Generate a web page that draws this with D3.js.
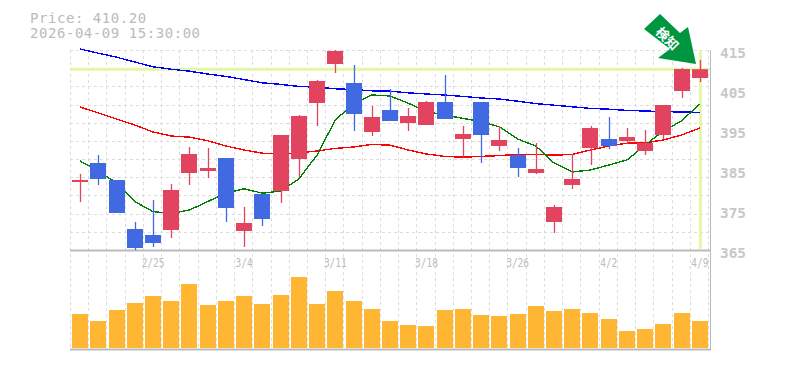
<!DOCTYPE html>
<html>
<head>
<meta charset="utf-8">
<script src="https://cdn.jsdelivr.net/npm/d3@7"></script>
<style>
  html, body { margin: 0; padding: 0; background: #fff; }
  text { font-family: "DejaVu Sans Mono", monospace; fill: #bbb; }
</style>
</head>
<body>
<div id="chart"></div>
<script>
const opens  = [382, 386.75, 382.5, 370.25, 368.75, 370, 384.25, 384.75, 388, 369.75, 379, 379.75, 387.75, 401.75, 411.5, 406.75, 394.5, 400, 396.75, 396.25, 402, 392.75, 402, 391, 388.75, 384.25, 372, 381.25, 390.5, 392.75, 392.25, 389.75, 393.75, 404.75, 408];
const closes = [382.5, 382.75, 374.25, 365.5, 366.75, 380, 389, 385.5, 375.5, 371.75, 372.75, 393.75, 398.5, 407.25, 414.75, 399, 398.25, 397.25, 398.5, 402, 397.75, 394, 393.75, 392.5, 385.5, 385.25, 375.75, 382.75, 395.5, 391, 393.25, 391.75, 401.25, 410.25, 410.2];
const highs  = [384, 388.75, 382.5, 372, 377.5, 381.5, 390.75, 390.5, 388, 375.75, 379, 393.75, 398.75, 407.5, 415, 411.25, 401, 405.25, 400.5, 402.25, 408.75, 396, 402, 396, 390.5, 391.75, 376.25, 389, 396, 398.25, 395.5, 395, 401.25, 410.5, 412.5];
const lows   = [377, 381.25, 374.25, 365, 365.75, 368, 381.25, 383, 372, 365.75, 371, 376.75, 383.25, 396, 409.25, 394.75, 393.5, 397.25, 394.75, 396.25, 397.75, 388.25, 386.75, 389.75, 383.25, 384, 369.25, 380.25, 386.25, 390.25, 391.5, 388.75, 392.75, 403, 407];
const maShort = [387.25, 384.75, 381.75, 377.1, 374.6, 374.1, 375, 377.1, 379.25, 380.3, 379.2, 379.75, 382.75, 388.75, 397.5, 401.5, 403.75, 403.5, 401.7, 399.6, 398.75, 397.9, 397.1, 395.8, 392.75, 391, 386.75, 384.5, 385, 386.25, 387.5, 391.25, 394.75, 397.3, 401.5];
const maMid   = [400.75, 399.25, 397.75, 396.25, 394.5, 393.5, 393.2, 392.3, 391, 390, 389.2, 389, 389.3, 389.75, 390.4, 390.75, 391.4, 391.2, 390, 389, 388.4, 388.2, 388.4, 388.6, 388.9, 388.9, 388.7, 388.9, 390, 391, 391.7, 391.8, 392.5, 393.75, 395.5];
const maLong  = [415.25, 414.2, 413.2, 412, 410.8, 410.2, 409.7, 409, 408.4, 407.6, 406.8, 406.4, 405.9, 405.7, 405.3, 405.1, 404.8, 404.7, 404.3, 404, 403.75, 403.4, 403, 402.75, 402.2, 401.6, 401.2, 400.8, 400.4, 400.2, 399.9, 399.75, 399.6, 399.5, 399.4];
const volumes = [34, 27, 38, 45, 52, 47, 64, 43, 47, 52, 44, 53, 71, 44, 57, 47, 39, 27, 23, 22, 38, 39, 33, 32, 34, 42, 37, 39, 35, 29, 17, 19, 24, 35, 27];
const dateLabels = [[4, "2/25"], [9, "3/4"], [14, "3/11"], [19, "3/18"], [24, "3/26"], [29, "4/2"], [34, "4/9"]];
const priceTicks = [415, 405, 395, 385, 375, 365];
const lastPrice = 410.2;
const titleLines = ["Price: 410.20", "2026-04-09 15:30:00"];
const badgeText = "検知";

const width = 785, height = 370;
const upColor = "#e24460", downColor = "#4169e1", volColor = "#ffb733";
const gridColor = "#ddd", axisColor = "#bbb", markerColor = "#e4f6a8";

const svg = d3.select("#chart").append("svg")
  .attr("width", width)
  .attr("height", height)
  .style("display", "block");

const x = d3.scaleBand()
  .domain(d3.range(opens.length))
  .range([71, 709])
  .paddingInner(0.12)
  .paddingOuter(0.06);
const xMid = (i) => x(i) + x.bandwidth() / 2;

const y = d3.scaleLinear().domain([365, 415]).range([250, 50]);
const yVol = d3.scaleLinear().domain([0, 98]).range([348, 250]);

// grid
const grid = svg.append("g").attr("stroke", gridColor).attr("stroke-dasharray", "3,3");
const gridStep = (709 - 71) / 35;
grid.selectAll(".v").data(d3.range(36)).join("line")
  .attr("class", "v")
  .attr("x1", (d) => Math.round(70 + d * gridStep) + 0.5)
  .attr("x2", (d) => Math.round(70 + d * gridStep) + 0.5)
  .attr("y1", 50)
  .attr("y2", 349);
grid.selectAll(".h").data(d3.range(11)).join("line")
  .attr("class", "h")
  .attr("x1", 70)
  .attr("x2", 710)
  .attr("y1", (d) => Math.round(50 + d * 200 / 11) + 0.5)
  .attr("y2", (d) => Math.round(50 + d * 200 / 11) + 0.5);

// frame
const frame = svg.append("g").attr("stroke", axisColor).attr("stroke-width", 2);
frame.append("line").attr("x1", 70).attr("x2", 711).attr("y1", 250.5).attr("y2", 250.5);
frame.append("line").attr("x1", 70).attr("x2", 711).attr("y1", 349.5).attr("y2", 349.5);
frame.append("line").attr("x1", 710.5).attr("x2", 710.5).attr("y1", 50).attr("y2", 350).attr("stroke-width", 1);

// current price and last day markers
svg.append("line")
  .attr("x1", 70).attr("x2", 710)
  .attr("y1", y(lastPrice)).attr("y2", y(lastPrice))
  .attr("stroke", markerColor).attr("stroke-width", 3);
svg.append("line")
  .attr("x1", xMid(34) + 0.5).attr("x2", xMid(34) + 0.5)
  .attr("y1", 50).attr("y2", 249)
  .attr("stroke", markerColor).attr("stroke-width", 3);

// moving averages
const line = d3.line().x((d, i) => xMid(i)).y((d) => y(d));
[[maLong, "#0000ff"], [maMid, "#ff0000"], [maShort, "#008000"]].forEach(([vals, color]) => {
  svg.append("path")
    .attr("d", line(vals))
    .attr("fill", "none")
    .attr("stroke", color)
    .attr("stroke-width", 1.4)
    .attr("shape-rendering", "crispEdges");
});

// candles
const candles = svg.append("g").selectAll("g").data(opens).join("g")
  .attr("fill", (d, i) => closes[i] >= d ? upColor : downColor)
  .attr("stroke", (d, i) => closes[i] >= d ? upColor : downColor);
candles.append("line")
  .attr("x1", (d, i) => Math.round(xMid(i)) + 0.5)
  .attr("x2", (d, i) => Math.round(xMid(i)) + 0.5)
  .attr("y1", (d, i) => y(highs[i]))
  .attr("y2", (d, i) => y(lows[i]))
  .attr("stroke-width", 1.3);
candles.append("rect")
  .attr("x", (d, i) => Math.round(x(i)))
  .attr("width", 16)
  .attr("y", (d, i) => y(Math.max(d, closes[i])))
  .attr("height", (d, i) => Math.abs(y(d) - y(closes[i])))
  .attr("stroke", "none");

// volume
svg.append("g").selectAll("rect").data(volumes).join("rect")
  .attr("x", (d, i) => Math.round(x(i)))
  .attr("width", 16)
  .attr("y", (d) => yVol(d))
  .attr("height", (d) => yVol(0) - yVol(d))
  .attr("fill", volColor);

// labels
svg.append("g").selectAll("text").data(titleLines).join("text")
  .attr("x", 30)
  .attr("y", (d, i) => 23 + i * 15)
  .style("font-size", "14px")
  .style("letter-spacing", "0.55px")
  .text((d) => d);

svg.append("g").selectAll("text").data(priceTicks).join("text")
  .attr("x", 720)
  .attr("y", (d) => y(d) + 8)
  .style("font-size", "14.4px")
  .style("font-weight", "bold")
  .style("fill", "#c8c8c8")
  .text((d) => d);

svg.append("g").selectAll("text").data(dateLabels).join("text")
  .attr("x", (d) => xMid(d[0]))
  .attr("y", 267)
  .attr("text-anchor", "middle")
  .style("font-size", "12px")
  .attr("textLength", (d) => d[1].length * 5.7)
  .attr("lengthAdjust", "spacingAndGlyphs")
  .text((d) => d[1]);

// signal arrow
const arrowPts = [[660, 14], [644, 29], [670, 49], [658, 58], [696, 64], [688, 27], [680, 33]];
svg.append("polygon")
  .attr("points", arrowPts.join(" "))
  .attr("fill", "#00963f");
svg.append("text")
  .attr("transform", "translate(664,42) rotate(45)")
  .attr("text-anchor", "middle")
  .style("font-family", "'Noto Sans CJK JP'")
  .style("font-size", "13px")
  .style("font-weight", "bold")
  .style("fill", "#fff")
  .text(badgeText);
</script>
</body>
</html>
